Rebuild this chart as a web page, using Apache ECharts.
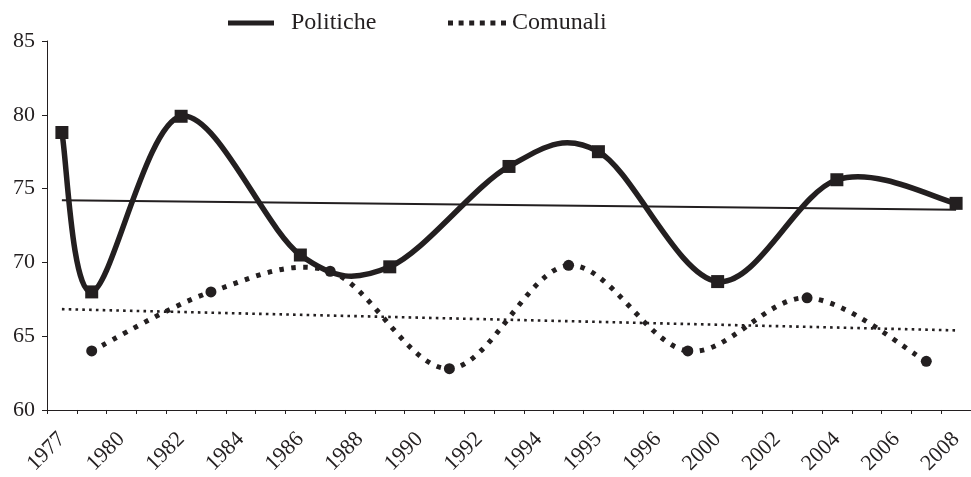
<!DOCTYPE html>
<html>
<head>
<meta charset="utf-8">
<script src="https://cdn.jsdelivr.net/npm/echarts@6/dist/echarts.min.js"></script>
<style>
  html, body { margin: 0; padding: 0; background: #ffffff; }
  #chart { width: 971px; height: 477px; }
</style>
</head>
<body>
<div id="chart"></div>
<script>
// Tick labels shown under every other slot of the category axis
const tickLabels = ['1977', '1980', '1982', '1984', '1986', '1988', '1990', '1992',
                    '1994', '1995', '1996', '2000', '2002', '2004', '2006', '2008'];
const slotCount = 31;

// Turnout, general elections (slot index on the axis, value in %)
const politicheSlots  = [0, 1, 4, 8, 11, 15, 18, 22, 26, 30];
const politicheValues = [78.8, 68.0, 79.9, 70.5, 69.7, 76.5, 77.5, 68.7, 75.6, 74.0];

// Turnout, municipal elections
const comunaliSlots  = [1, 5, 9, 13, 17, 21, 25, 29];
const comunaliValues = [64.0, 68.0, 69.4, 62.8, 69.8, 64.0, 67.6, 63.3];

const ink = '#231f20';
const serif = '"Liberation Serif", "DejaVu Serif", serif';

const categories = Array.from({ length: slotCount }, (_, i) => (i % 2 === 0 ? tickLabels[i / 2] : ''));

function pairs(xs, ys) { return xs.map((x, i) => [x, ys[i]]); }

// Least-squares trend over the slot index, drawn across the whole axis
function trend(xs, ys) {
  const n = xs.length;
  const mx = xs.reduce((a, b) => a + b, 0) / n;
  const my = ys.reduce((a, b) => a + b, 0) / n;
  let sxy = 0, sxx = 0;
  for (let i = 0; i < n; i++) { sxy += (xs[i] - mx) * (ys[i] - my); sxx += (xs[i] - mx) * (xs[i] - mx); }
  const k = sxy / sxx;
  const at = x => my + k * (x - mx);
  return [[0, at(0)], [slotCount - 1, at(slotCount - 1)]];
}

// Smoothed curve: one cubic Bezier per segment, tangents from the neighbouring points
const TENSION = 1 / 6;
function curveSeries(name, xs, ys, stroke) {
  const data = pairs(xs, ys);
  return {
    name: name,
    type: 'custom',
    data: data,
    encode: { x: 0, y: 1 },
    silent: true,
    z: 2,
    renderItem: function (params, api) {
      const i = params.dataIndex;
      const n = data.length;
      if (i >= n - 1) return null;
      const p = k => api.coord(data[Math.max(0, Math.min(n - 1, k))]);
      const p0 = p(i - 1), p1 = p(i), p2 = p(i + 1), p3 = p(i + 2);
      return {
        type: 'bezierCurve',
        shape: {
          x1: p1[0], y1: p1[1],
          x2: p2[0], y2: p2[1],
          cpx1: p1[0] + (p2[0] - p0[0]) * TENSION,
          cpy1: p1[1] + (p2[1] - p0[1]) * TENSION,
          cpx2: p2[0] - (p3[0] - p1[0]) * TENSION,
          cpy2: p2[1] - (p3[1] - p1[1]) * TENSION
        },
        style: Object.assign({ fill: null, stroke: ink, lineCap: 'butt' }, stroke)
      };
    }
  };
}

const dotsIcon = 'path://M0,0h5v5h-5z M10.6,0h5v5h-5z M21.2,0h5v5h-5z M31.8,0h5v5h-5z M42.4,0h5v5h-5z M53,0h5v5h-5z';

const chart = echarts.init(document.getElementById('chart'), null, { renderer: 'canvas' });
chart.setOption({
  animation: false,
  backgroundColor: '#ffffff',
  textStyle: { fontFamily: serif, color: ink },
  legend: [
    {
      data: [{ name: 'Politiche', icon: 'path://M0,0H46V5H0Z' }],
      left: 228, top: 11, padding: 0,
      itemWidth: 46, itemHeight: 5,
      selectedMode: false,
      textStyle: { fontFamily: serif, fontSize: 24, color: ink, padding: [0, 0, 0, 12] }
    },
    {
      data: [{ name: 'Comunali', icon: dotsIcon }],
      left: 448, top: 11, padding: 0,
      itemWidth: 58, itemHeight: 5,
      selectedMode: false,
      textStyle: { fontFamily: serif, fontSize: 24, color: ink, padding: [0, 0, 0, 1] }
    }
  ],
  grid: { left: 47, top: 41, width: 932, height: 369, containLabel: false },
  xAxis: {
    type: 'category',
    data: categories,
    boundaryGap: true,
    axisLine: { lineStyle: { color: ink, width: 1 } },
    axisTick: { show: true, interval: 0, length: 4, lineStyle: { color: ink } },
    axisLabel: { interval: 1, rotate: 45, margin: 26, fontSize: 22, fontFamily: serif, color: ink },
    splitLine: { show: false }
  },
  yAxis: {
    type: 'value',
    min: 60, max: 85, interval: 5,
    axisLine: { show: true, lineStyle: { color: ink, width: 1 } },
    axisTick: { show: true, length: 5, lineStyle: { color: ink } },
    axisLabel: { margin: 12, fontSize: 22, fontFamily: serif, color: ink },
    splitLine: { show: false }
  },
  series: [
    {
      name: 'Politiche trend',
      type: 'line',
      data: trend(politicheSlots, politicheValues),
      symbol: 'none',
      silent: true,
      lineStyle: { color: ink, width: 2 },
      z: 1
    },
    {
      name: 'Comunali trend',
      type: 'line',
      data: trend(comunaliSlots, comunaliValues),
      symbol: 'none',
      silent: true,
      lineStyle: { color: ink, width: 2.6, type: [2.6, 4.2], cap: 'butt' },
      z: 1
    },
    curveSeries('Politiche curve', politicheSlots, politicheValues, { lineWidth: 5.5 }),
    curveSeries('Comunali curve', comunaliSlots, comunaliValues, { lineWidth: 5, lineDash: [4.5, 7.5] }),
    {
      name: 'Politiche',
      type: 'scatter',
      data: pairs(politicheSlots, politicheValues),
      symbol: 'rect',
      symbolSize: 13,
      itemStyle: { color: ink, opacity: 1 },
      z: 3
    },
    {
      name: 'Comunali',
      type: 'scatter',
      data: pairs(comunaliSlots, comunaliValues),
      symbol: 'circle',
      symbolSize: 11,
      itemStyle: { color: ink, opacity: 1 },
      z: 3
    }
  ]
});
</script>
</body>
</html>
